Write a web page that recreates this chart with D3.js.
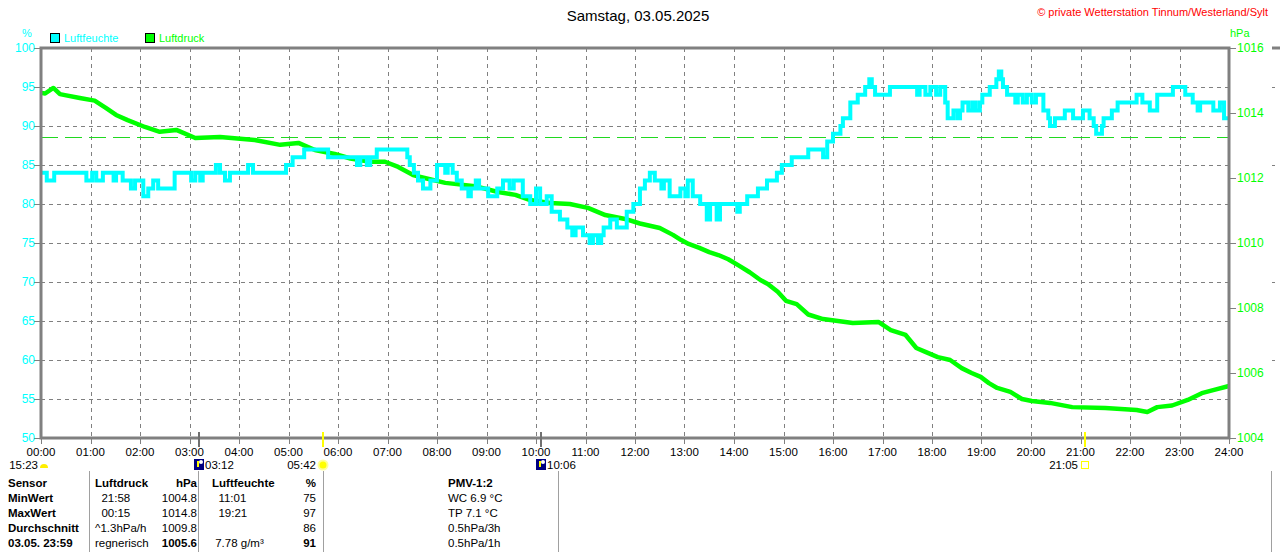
<!DOCTYPE html>
<html>
<head>
<meta charset="utf-8">
<script src="https://cdn.jsdelivr.net/npm/d3@7"></script>
<style>
  body { margin: 0; background: #fff; }
  svg { display: block; font-family: "Liberation Sans", Arial, sans-serif; }
  .pre { white-space: pre; }
</style>
</head>
<body>
<div id="chart"></div>
<script>
// humidity (%) steps: minute of day where the value starts
var humMin = [0, 7, 16, 55, 62, 67, 75, 88, 91, 99, 109, 114, 124, 130, 136, 142, 162, 182, 187, 193,
  196, 212, 217, 223, 229, 251, 257, 297, 305, 319, 348, 383, 387, 395, 399, 407, 444, 447, 452, 457,
  463, 472, 480, 490, 493, 499, 504, 510, 518, 521, 527, 531, 542, 553, 560, 568, 573, 584, 593, 600,
  605, 613, 619, 629, 638, 644, 648, 657, 665, 669, 675, 679, 682, 690, 698, 710, 718, 726, 732, 738,
  744, 752, 755, 762, 775, 781, 784, 790, 799, 807, 811, 819, 823, 844, 847, 856, 869, 880, 892, 898,
  910, 930, 948, 953, 960, 969, 972, 981, 990, 999, 1004, 1007, 1011, 1029, 1062, 1065, 1072, 1078, 1085, 1090,
  1096, 1099, 1106, 1111, 1114, 1117, 1124, 1129, 1133, 1138, 1141, 1150, 1158, 1161, 1164, 1166, 1171, 1181, 1184, 1190,
  1195, 1201, 1206, 1215, 1221, 1223, 1229, 1241, 1251, 1263, 1271, 1276, 1279, 1286, 1288, 1298, 1305, 1328, 1335, 1344,
  1353, 1372, 1387, 1396, 1402, 1405, 1421, 1429, 1434, 1440];
var humVal = [84, 83, 84, 83, 84, 83, 84, 83, 84, 83, 82, 83, 81, 82, 83, 82, 84, 83, 84, 83,
  84, 85, 84, 83, 84, 85, 84, 85, 86, 87, 86, 85, 86, 85, 86, 87, 86, 85, 84, 83,
  82, 83, 85, 84, 85, 84, 83, 82, 81, 82, 83, 82, 81, 82, 83, 82, 83, 81, 80, 82,
  80, 81, 79, 78, 77, 76, 77, 76, 75, 76, 75, 76, 77, 78, 77, 79, 80, 82, 83, 84,
  83, 82, 83, 81, 82, 81, 83, 81, 80, 78, 80, 78, 80, 79, 80, 81, 82, 83, 84, 85,
  86, 87, 86, 88, 89, 90, 91, 93, 94, 95, 96, 95, 94, 95, 94, 95, 94, 95, 94, 95,
  93, 91, 92, 91, 92, 93, 92, 93, 92, 93, 94, 95, 96, 97, 96, 95, 94, 93, 94, 93,
  94, 93, 94, 92, 91, 90, 91, 92, 91, 92, 91, 90, 89, 90, 91, 92, 93, 94, 93, 92,
  94, 95, 94, 93, 92, 93, 92, 93, 91, 91];

// air pressure (hPa): minute of day and value
var presMin = [0, 5, 15, 23, 29, 47, 65, 79, 91, 105, 126, 144, 164, 187, 217, 259, 290, 312, 332, 356,
  375, 399, 417, 433, 451, 465, 490, 526, 554, 575, 593, 617, 641, 663, 684, 708, 726, 750, 766, 776,
  785, 798, 810, 821, 833, 845, 859, 872, 881, 893, 903, 916, 930, 948, 984, 1015, 1030, 1048, 1061, 1072,
  1087, 1102, 1116, 1128, 1139, 1149, 1159, 1175, 1189, 1201, 1223, 1250, 1290, 1328, 1341, 1353, 1371, 1390, 1407, 1422,
  1440];
var presVal = [1014.62, 1014.6, 1014.77, 1014.58, 1014.55, 1014.46, 1014.38, 1014.15, 1013.94, 1013.78,
  1013.57, 1013.42, 1013.48, 1013.23, 1013.26, 1013.17, 1013.02, 1013.08, 1012.86, 1012.74,
  1012.6, 1012.5, 1012.5, 1012.34, 1012.09, 1012.0, 1011.85, 1011.75, 1011.57, 1011.48,
  1011.32, 1011.23, 1011.2, 1011.08, 1010.86, 1010.74, 1010.6, 1010.46, 1010.25, 1010.09,
  1009.97, 1009.85, 1009.72, 1009.63, 1009.5, 1009.32, 1009.1, 1008.86, 1008.74, 1008.5,
  1008.22, 1008.12, 1007.8, 1007.66, 1007.54, 1007.57, 1007.32, 1007.17, 1006.77, 1006.65,
  1006.49, 1006.4, 1006.15, 1006.0, 1005.88, 1005.69, 1005.54, 1005.42, 1005.2, 1005.14,
  1005.08, 1004.95, 1004.92, 1004.86, 1004.8, 1004.95, 1005.0, 1005.17, 1005.38, 1005.48,
  1005.6];

var refPressure = 1013.25;
var humTicks = [50, 55, 60, 65, 70, 75, 80, 85, 90, 95, 100];
var presTicks = [1004, 1006, 1008, 1010, 1012, 1014, 1016];
var hourLabels = ["00:00", "01:00", "02:00", "03:00", "04:00", "05:00", "06:00", "07:00", "08:00", "09:00",
  "10:00", "11:00", "12:00", "13:00", "14:00", "15:00", "16:00", "17:00", "18:00", "19:00",
  "20:00", "21:00", "22:00", "23:00", "24:00"];

// sun / moon events on the time axis
var eventTimes = ["03:12", "05:42", "10:06", "21:05"];
var eventTypes = ["moon", "sun", "moon", "sun"];

var tableRows = [
  ["Sensor", "Luftdruck", "hPa", "Luftfeuchte", "%", "PMV-1:2"],
  ["MinWert", "  21:58", "1004.8", "  11:01", "75", "WC 6.9 °C"],
  ["MaxWert", "  00:15", "1014.8", "  19:21", "97", "TP 7.1 °C"],
  ["Durchschnitt", "^1.3hPa/h", "1009.8", "", "86", "0.5hPa/3h"],
  ["03.05. 23:59", "regnerisch", "1005.6", " 7.78 g/m³", "91", "0.5hPa/1h"]
];

var W = 1280, H = 552;
var pL = 41, pR = 1229, pT = 48, pB = 438;
var cyan = "#00ffff", green = "#00ff00", gridCol = "#808080";

var svg = d3.select("#chart").append("svg")
  .attr("width", W).attr("height", H);

var x = d3.scaleLinear().domain([0, 1440]).range([pL, pR]);
var yH = d3.scaleLinear().domain([50, 100]).range([pB, pT]);
var yP = d3.scaleLinear().domain([1004, 1016]).range([pB, pT]);

function toMin(s) {
  var p = s.split(":");
  return +p[0] * 60 + +p[1];
}
function px(v) { return Math.round(v) + 0.5; }

// grid
svg.append("g").selectAll("line")
  .data(d3.range(1, 24))
  .enter().append("line")
  .attr("x1", function(d) { return px(x(d * 60)); })
  .attr("x2", function(d) { return px(x(d * 60)); })
  .attr("y1", pT).attr("y2", pB)
  .attr("stroke", gridCol).attr("stroke-dasharray", "4,4");

svg.append("g").selectAll("line")
  .data(humTicks.slice(1, -1))
  .enter().append("line")
  .attr("x1", pL).attr("x2", pR)
  .attr("y1", function(d) { return px(yH(d)); })
  .attr("y2", function(d) { return px(yH(d)); })
  .attr("stroke", gridCol).attr("stroke-dasharray", "4,4");

// reference pressure line
svg.append("line")
  .attr("x1", pL).attr("x2", pR)
  .attr("y1", px(yP(refPressure)))
  .attr("y2", px(yP(refPressure)))
  .attr("stroke", "#20d820").attr("stroke-dasharray", "17,7");

// left axis
var axL = svg.append("g");
axL.selectAll("line").data(humTicks).enter().append("line")
  .attr("x1", pL - 7).attr("x2", pL)
  .attr("y1", function(d) { return px(yH(d)); })
  .attr("y2", function(d) { return px(yH(d)); })
  .attr("stroke", gridCol);
axL.selectAll("text").data(humTicks).enter().append("text")
  .attr("x", pL - 6).attr("y", function(d) { return yH(d) + 4; })
  .attr("text-anchor", "end").attr("font-size", 12).attr("fill", cyan)
  .text(function(d) { return d; });

// right axis
var axR = svg.append("g");
axR.selectAll("line").data(presTicks).enter().append("line")
  .attr("x1", pR).attr("x2", pR + 7)
  .attr("y1", function(d) { return px(yP(d)); })
  .attr("y2", function(d) { return px(yP(d)); })
  .attr("stroke", gridCol);
axR.selectAll("text").data(presTicks).enter().append("text")
  .attr("x", pR + 8).attr("y", function(d) { return yP(d) + 4; })
  .attr("font-size", 12).attr("fill", green)
  .text(function(d) { return d; });

// bottom axis
var axB = svg.append("g");
axB.selectAll("line").data(hourLabels).enter().append("line")
  .attr("x1", function(d, i) { return px(x(i * 60)); })
  .attr("x2", function(d, i) { return px(x(i * 60)); })
  .attr("y1", pB).attr("y2", pB + 6)
  .attr("stroke", gridCol);
axB.selectAll("text").data(hourLabels).enter().append("text")
  .attr("x", function(d, i) { return x(i * 60); })
  .attr("y", pB + 18)
  .attr("text-anchor", "middle").attr("font-size", 11.5).attr("fill", "#000")
  .text(function(d) { return d; });

// pressure line
var presData = presMin.map(function(m, i) { return [m, presVal[i]]; });
svg.append("path")
  .datum(presData)
  .attr("fill", "none").attr("stroke", green).attr("stroke-width", 4.5)
  .attr("stroke-linejoin", "round")
  .attr("d", d3.line()
    .x(function(d) { return x(d[0]); })
    .y(function(d) { return yP(d[1]); }));

// humidity step line
var humData = humMin.map(function(m, i) { return [m, humVal[i]]; });
svg.append("path")
  .datum(humData)
  .attr("fill", "none").attr("stroke", cyan).attr("stroke-width", 4)
  .attr("d", d3.line()
    .curve(d3.curveStepAfter)
    .x(function(d) { return x(d[0]); })
    .y(function(d) { return yH(d[1]); }));

// frame
svg.append("rect")
  .attr("x", pL).attr("y", pT)
  .attr("width", pR - pL).attr("height", pB - pT)
  .attr("fill", "none").attr("stroke", gridCol).attr("stroke-width", 3);

// event bars on axis
svg.append("g").selectAll("rect")
  .data(eventTimes).enter().append("rect")
  .attr("x", function(d) { return Math.round(x(toMin(d))) - 1; })
  .attr("y", pB - 6).attr("width", 2).attr("height", 15)
  .attr("fill", function(d, i) { return eventTypes[i] == "sun" ? "#ffff00" : "#707070"; });

// event labels row
var evY = 469;
svg.append("text").attr("x", 38).attr("y", evY).attr("text-anchor", "end")
  .attr("font-size", 11.5).text("15:23");
svg.append("path")
  .attr("d", "M40," + (evY - 1) + " a4,4 0 0 1 8,0 z")
  .attr("fill", "#ffee00");

eventTimes.forEach(function(t, i) {
  var ex = Math.round(x(toMin(t)));
  if (eventTypes[i] == "moon") {
    svg.append("rect").attr("x", ex - 5).attr("y", evY - 10)
      .attr("width", 10).attr("height", 11).attr("fill", "#000080");
    svg.append("line").attr("x1", ex - 1).attr("x2", ex - 1)
      .attr("y1", evY - 8).attr("y2", evY - 2)
      .attr("stroke", "#ffff00").attr("stroke-width", 2);
    svg.append("circle").attr("cx", ex + 2).attr("cy", evY - 7).attr("r", 2).attr("fill", "#ffffff");
    svg.append("text").attr("x", ex + 6).attr("y", evY)
      .attr("font-size", 11.5).text(t);
  } else if (t < "12:00") {
    svg.append("circle").attr("cx", ex).attr("cy", evY - 4).attr("r", 4.5)
      .attr("fill", "#ffff00").attr("stroke", "#ffff99").attr("stroke-width", 2);
    svg.append("text").attr("x", ex - 7).attr("y", evY).attr("text-anchor", "end")
      .attr("font-size", 11.5).text(t);
  } else {
    svg.append("rect").attr("x", ex - 3.5).attr("y", evY - 7.5)
      .attr("width", 7).attr("height", 7).attr("fill", "none")
      .attr("stroke", "#ffff00");
    svg.append("text").attr("x", ex - 7).attr("y", evY).attr("text-anchor", "end")
      .attr("font-size", 11.5).text(t);
  }
});

// titles
svg.append("text").attr("x", 638).attr("y", 21).attr("text-anchor", "middle")
  .attr("font-size", 15).attr("fill", "#000").text("Samstag, 03.05.2025");
svg.append("text").attr("x", 1268).attr("y", 16).attr("text-anchor", "end")
  .attr("font-size", 11).attr("fill", "#ff0000")
  .text("© private Wetterstation Tinnum/Westerland/Sylt");
svg.append("text").attr("x", 27).attr("y", 37).attr("text-anchor", "middle")
  .attr("font-size", 11).attr("fill", cyan).text("%");
svg.append("text").attr("x", 1230).attr("y", 37)
  .attr("font-size", 11).attr("fill", green).text("hPa");

// legend
var legend = [["Luftfeuchte", cyan, 50], ["Luftdruck", green, 145]];
legend.forEach(function(l) {
  svg.append("rect").attr("x", l[2] + 0.5).attr("y", 33.5)
    .attr("width", 9).attr("height", 9)
    .attr("fill", l[1]).attr("stroke", "#000");
  svg.append("text").attr("x", l[2] + 14).attr("y", 42)
    .attr("font-size", 11).attr("fill", l[1]).text(l[0]);
});

// statistics table
var colX = [8, 95, 197, 212, 316, 448];
var colAnchor = ["start", "start", "end", "start", "end", "start"];
var seps = [89, 198, 323, 558, 1271];
svg.append("g").selectAll("line").data(seps).enter().append("line")
  .attr("x1", function(d) { return d + 0.5; }).attr("x2", function(d) { return d + 0.5; })
  .attr("y1", 471).attr("y2", H)
  .attr("stroke", "#a0a0a0");

tableRows.forEach(function(row, r) {
  row.forEach(function(cell, c) {
    var bold = r == 0 || c == 0 || (r == tableRows.length - 1 && (c == 2 || c == 4));
    svg.append("text")
      .attr("class", "pre")
      .attr("x", colX[c]).attr("y", 487 + r * 15)
      .attr("text-anchor", colAnchor[c])
      .attr("font-size", 11.5)
      .attr("font-weight", bold ? "bold" : "normal")
      .attr("fill", "#000")
      .text(cell);
  });
});

// fragment of the neighbouring chart at the right edge
svg.append("line").attr("x1", 1272).attr("x2", W).attr("y1", pT).attr("y2", pT)
  .attr("stroke", gridCol).attr("stroke-width", 3);
svg.append("g").selectAll("line").data([60, 70, 85, 95]).enter().append("line")
  .attr("x1", 1272).attr("x2", W)
  .attr("y1", function(d) { return px(yH(d)); })
  .attr("y2", function(d) { return px(yH(d)); })
  .attr("stroke", gridCol).attr("stroke-dasharray", "3,5");
</script>
</body>
</html>
